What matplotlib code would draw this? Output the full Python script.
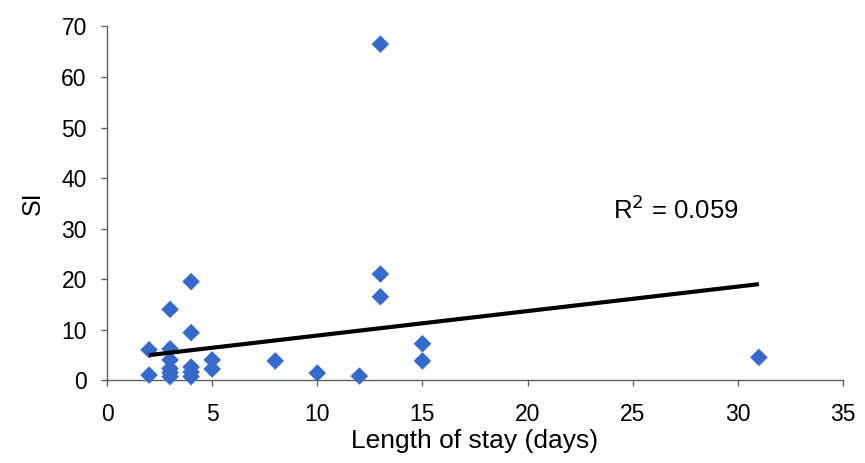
import matplotlib
matplotlib.use("Agg")
import matplotlib.pyplot as plt
import numpy as np

plt.rcParams['font.family'] = ['Liberation Sans', 'DejaVu Sans']

# Length of stay (days) and SI for each patient
stay_days = [2, 2, 3, 3, 3, 3, 3, 3, 4, 4, 4, 4, 4, 5, 5, 8, 10, 12, 13, 13, 13, 15, 15, 31]
si_values = [6, 1.0, 14, 6.2, 4, 2.3, 0.7, 1.5, 19.5, 9.4, 2.6, 1.6, 0.7, 4, 2.2, 3.8, 1.4, 0.8, 66.5, 21, 16.5, 7.2, 3.8, 4.5]

# Linear trendline coefficients and its fit statistic
trend_slope = 0.4845
trend_intercept = 3.98
r_squared = 0.059

fig = plt.figure(figsize=(8.65, 4.63), dpi=100)
ax = fig.add_axes([0.1237, 0.179, 0.8509, 0.7638])

ax.scatter(stay_days, si_values, marker='D', s=80, color='#3669cc',
           edgecolors='none', zorder=3, clip_on=False)

tx = np.array([min(stay_days), max(stay_days)], dtype=float)
ax.plot(tx, trend_slope * tx + trend_intercept, color='black', lw=3, zorder=4,
        solid_capstyle='butt')

ax.text(24.05, 33.7, f"R$^2$ = {r_squared:.3f}", fontsize=18.5, ha='left', va='center')

ax.set_xlim(0, 35)
ax.set_ylim(0, 70)
ax.set_xticks(range(0, 36, 5))
ax.set_yticks(range(0, 71, 10))
for s in ['top', 'right']:
    ax.spines[s].set_visible(False)
for s in ['left', 'bottom']:
    ax.spines[s].set_color('#606060')
    ax.spines[s].set_linewidth(1.0)
ax.tick_params(axis='both', direction='out', length=4.5, width=1, color='#606060',
               labelsize=16.5)
ax.tick_params(axis='x', pad=12)
ax.tick_params(axis='y', pad=10)
ax.set_xlabel('Length of stay (days)', fontsize=19, labelpad=2)
ax.set_ylabel('SI', fontsize=18, labelpad=12)

fig.savefig('out.png', dpi=100)
